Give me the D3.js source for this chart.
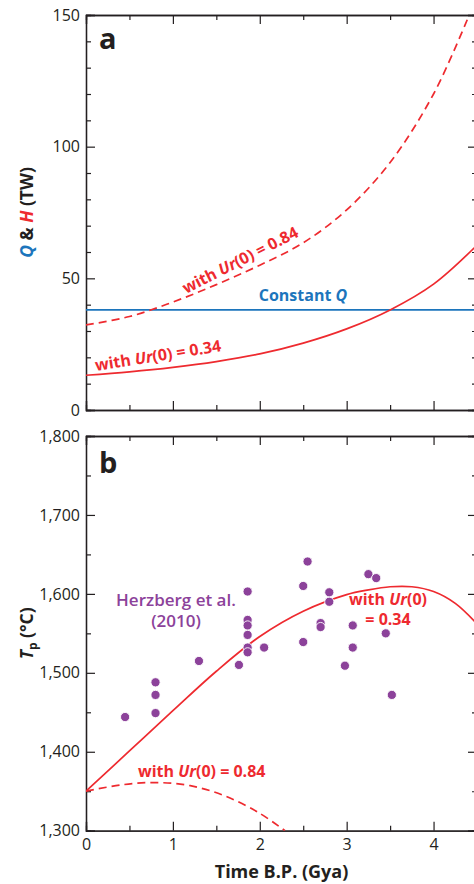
<!DOCTYPE html>
<html>
<head>
<meta charset="utf-8">
<script src="https://cdn.jsdelivr.net/npm/d3@7"></script>
<style>
  html, body { margin: 0; padding: 0; background: #fff; }
  svg { display: block; font-family: "Open Sans", "Noto Sans", sans-serif; }
</style>
</head>
<body>
<div id="chart"></div>
<script>
// Panel a: heat flow Q and heat production H (TW) vs. time before present (Gy)
const constantQ = 38;
const hAgeLow = [0, 0.5, 1, 1.5, 2, 2.5, 3, 3.5, 4, 4.5];
const hLow = [13.2, 14.5, 16.2, 18.4, 21.3, 25.4, 30.8, 38, 47.8, 62.6];    // Ur(0) = 0.34
const hAgeHigh = [0, 0.5, 1, 1.5, 2, 2.5, 3, 3.5, 4, 4.41];
const hHigh = [32.3, 35.5, 41, 47.6, 55, 63.5, 76, 94, 120, 150];           // Ur(0) = 0.84

// Panel b: mantle potential temperature Tp (°C)
const tpAgeLow = [0, 0.5, 1, 1.5, 2, 2.5, 3, 3.25, 3.5, 3.75, 4, 4.25, 4.5];
const tpLow = [1350, 1401, 1452, 1502, 1546, 1578, 1599, 1605, 1609, 1609, 1603, 1588, 1562];
const tpAgeHigh = [0, 0.4, 0.8, 1.2, 1.6, 2.0, 2.29];
const tpHigh = [1350, 1358, 1361, 1357, 1344, 1322, 1300];

// Herzberg et al. (2010) petrological estimates
const herzbergAge = [0.45, 0.8, 0.8, 0.8, 1.3, 1.76, 1.86, 1.86, 1.86, 1.86, 1.86, 1.86, 2.05,
  2.5, 2.55, 2.5, 2.7, 2.7, 2.8, 2.8, 2.98, 3.07, 3.07, 3.25, 3.34, 3.45, 3.52];
const herzbergTp = [1444, 1488, 1472, 1449, 1515, 1510, 1603, 1567, 1560, 1548, 1532, 1526, 1532,
  1610, 1641, 1539, 1563, 1558, 1602, 1590, 1509, 1560, 1532, 1625, 1620, 1550, 1472];

const xMajor = [0, 1, 2, 3, 4];
const xMinor = [0.5, 1.5, 2.5, 3.5, 4.5];
const qMajor = [0, 50, 100, 150];
const qMinor = d3.range(10, 150, 10).filter(v => v % 50 !== 0);
const tMajor = [1300, 1400, 1500, 1600, 1700, 1800];
const tMinor = [1350, 1450, 1550, 1650, 1750];

const W = 474, H = 884;
const RED = "#ee2a2f", BLUE = "#1c75bc", PURPLE = "#8c429a", INK = "#231f20";

const svg = d3.select("#chart").append("svg")
  .attr("width", W).attr("height", H);

const x = d3.scaleLinear().domain([0, 4.5]).range([86, 477]);
const yQ = d3.scaleLinear().domain([0, 150]).range([410, 15]);
const yT = d3.scaleLinear().domain([1300, 1800]).range([830.7, 436]);

const defs = svg.append("defs");
function clip(id, y) {
  defs.append("clipPath").attr("id", id).append("rect")
    .attr("x", x.range()[0]).attr("y", y.range()[1])
    .attr("width", x.range()[1] - x.range()[0])
    .attr("height", y.range()[0] - y.range()[1]);
}
clip("clip-a", yQ);
clip("clip-b", yT);

// frame with inward ticks on all four sides
function frame(y, major, minor, fmt, showX) {
  const g = svg.append("g");
  const x0 = x.range()[0], x1 = x.range()[1];
  const yb = y.range()[0], yt = y.range()[1];

  g.append("g").attr("transform", `translate(${x0},0)`)
    .call(d3.axisLeft(y).tickValues(major).tickSize(-9).tickPadding(6).tickFormat(fmt));
  g.append("g").attr("transform", `translate(${x0},0)`)
    .call(d3.axisLeft(y).tickValues(minor).tickSize(-5).tickFormat(""));
  g.append("g").attr("transform", `translate(${x1},0)`)
    .call(d3.axisRight(y).tickValues(major).tickSize(-9).tickFormat(""));
  g.append("g").attr("transform", `translate(${x1},0)`)
    .call(d3.axisRight(y).tickValues(minor).tickSize(-5).tickFormat(""));

  const bottom = g.append("g").attr("transform", `translate(0,${yb})`)
    .call(d3.axisBottom(x).tickValues(xMajor).tickSize(-9).tickPadding(4)
      .tickFormat(showX ? d3.format("d") : ""));
  g.append("g").attr("transform", `translate(0,${yb})`)
    .call(d3.axisBottom(x).tickValues(xMinor).tickSize(-5).tickFormat(""));
  g.append("g").attr("transform", `translate(0,${yt})`)
    .call(d3.axisTop(x).tickValues(xMajor).tickSize(-9).tickFormat(""));
  g.append("g").attr("transform", `translate(0,${yt})`)
    .call(d3.axisTop(x).tickValues(xMinor).tickSize(-5).tickFormat(""));

  g.selectAll(".domain").attr("stroke", INK).attr("stroke-width", 1.3);
  g.selectAll(".tick line").attr("stroke", INK).attr("stroke-width", 1.2);
  g.selectAll(".tick text").attr("fill", INK)
    .style("font-size", "16px").style("font-family", "'Open Sans', sans-serif");
  bottom.selectAll(".tick text").attr("dy", "0.95em");
  return g;
}

frame(yQ, qMajor, qMinor, d3.format("d"), false);
frame(yT, tMajor, tMinor, d3.format(","), true);

// Panel a curves
const lineA = d3.line().curve(d3.curveCatmullRom.alpha(0.5)).x(d => x(d[0])).y(d => yQ(d[1]));
const gA = svg.append("g").attr("clip-path", "url(#clip-a)");

gA.append("line")
  .attr("x1", x(0)).attr("x2", x(4.5))
  .attr("y1", yQ(constantQ)).attr("y2", yQ(constantQ))
  .attr("stroke", BLUE).attr("stroke-width", 1.8);

gA.append("path").datum(d3.zip(hAgeLow, hLow))
  .attr("d", lineA).attr("fill", "none")
  .attr("stroke", RED).attr("stroke-width", 1.7);

gA.append("path").datum(d3.zip(hAgeHigh, hHigh))
  .attr("d", lineA).attr("fill", "none")
  .attr("stroke", RED).attr("stroke-width", 1.7)
  .attr("stroke-dasharray", "8,5");

// Panel b curves
const lineB = d3.line().curve(d3.curveCatmullRom.alpha(0.5)).x(d => x(d[0])).y(d => yT(d[1]));
const gB = svg.append("g").attr("clip-path", "url(#clip-b)");

gB.append("path").datum(d3.zip(tpAgeLow, tpLow))
  .attr("d", lineB).attr("fill", "none")
  .attr("stroke", RED).attr("stroke-width", 1.7);

gB.append("path").datum(d3.zip(tpAgeHigh, tpHigh))
  .attr("d", lineB).attr("fill", "none")
  .attr("stroke", RED).attr("stroke-width", 1.7)
  .attr("stroke-dasharray", "8,5");

gB.selectAll("circle.hz").data(d3.zip(herzbergAge, herzbergTp))
  .join("circle")
  .attr("class", "hz")
  .attr("cx", d => x(d[0])).attr("cy", d => yT(d[1]))
  .attr("r", 4.6)
  .attr("fill", PURPLE)
  .attr("stroke", "#fff").attr("stroke-width", 0.9);

// Labels
function urLabel(parent, value) {
  parent.append("tspan").text("with ");
  parent.append("tspan").attr("font-style", "italic").text("Ur");
  parent.append("tspan").text(value);
}

function txt(xp, yp, anchor, size) {
  return svg.append("text")
    .attr("x", xp).attr("y", yp)
    .attr("text-anchor", anchor || "start")
    .attr("font-weight", "bold").attr("font-size", (size || 16) + "px");
}

// panel letters
svg.append("text").attr("x", 99).attr("y", 49)
  .attr("font-weight", "bold").attr("font-size", "29px").attr("fill", INK).text("a");
svg.append("text").attr("x", 99).attr("y", 473)
  .attr("font-weight", "bold").attr("font-size", "29px").attr("fill", INK).text("b");

// Constant Q
const cq = txt(303, 301, "middle").attr("fill", BLUE);
cq.append("tspan").text("Constant ");
cq.append("tspan").attr("font-style", "italic").text("Q");

// Ur(0) = 0.34 along H curve
const l34 = svg.append("text")
  .attr("transform", "translate(96,371) rotate(-9)")
  .attr("font-weight", "bold").attr("font-size", "16px").attr("fill", RED);
urLabel(l34, "(0) = 0.34");

// Ur(0) = 0.84 along dashed H curve
const l84 = svg.append("text")
  .attr("transform", "translate(186,294) rotate(-27)")
  .attr("font-weight", "bold").attr("font-size", "16px").attr("fill", RED);
urLabel(l84, "(0) = 0.84");

// Herzberg label
txt(176, 606, "middle", 17).attr("fill", PURPLE).attr("font-weight", 600).text("Herzberg et al.");
txt(176, 627, "middle", 17).attr("fill", PURPLE).attr("font-weight", 600).text("(2010)");

// Tp labels
const b34 = txt(388, 605, "middle").attr("fill", RED);
urLabel(b34, "(0)");
txt(388, 625, "middle").attr("fill", RED).text("= 0.34");

const b84 = txt(138, 777, "start").attr("fill", RED);
urLabel(b84, "(0) = 0.84");

// Axis titles
const yA = svg.append("text")
  .attr("transform", `translate(33,${(yQ.range()[0] + yQ.range()[1]) / 2}) rotate(-90)`)
  .attr("text-anchor", "middle").attr("font-weight", "bold").attr("font-size", "17.5px");
yA.append("tspan").attr("fill", BLUE).attr("font-style", "italic").text("Q");
yA.append("tspan").attr("fill", INK).text(" & ");
yA.append("tspan").attr("fill", RED).attr("font-style", "italic").text("H");
yA.append("tspan").attr("fill", INK).text(" (TW)");

const yB = svg.append("text")
  .attr("transform", `translate(33,${(yT.range()[0] + yT.range()[1]) / 2}) rotate(-90)`)
  .attr("text-anchor", "middle").attr("font-weight", "bold").attr("font-size", "17.5px")
  .attr("fill", INK);
yB.append("tspan").attr("font-style", "italic").text("T");
yB.append("tspan").attr("font-size", "12px").attr("dy", 4).text("p");
yB.append("tspan").attr("dy", -4).text(" (°C)");

svg.append("text")
  .attr("x", (x.range()[0] + x.range()[1]) / 2).attr("y", 878)
  .attr("text-anchor", "middle").attr("font-weight", "bold").attr("font-size", "18px")
  .attr("fill", INK).text("Time B.P. (Gya)");
</script>
</body>
</html>
